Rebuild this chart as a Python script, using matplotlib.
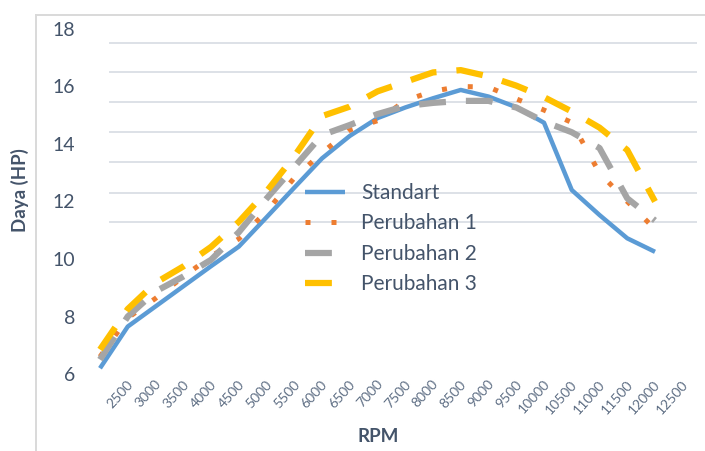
import matplotlib
matplotlib.use("Agg")
import matplotlib.pyplot as plt
from matplotlib.lines import Line2D
from matplotlib.transforms import ScaledTranslation

plt.rcParams["font.family"] = ["Lato", "DejaVu Sans"]

# data
rpm = ["2500", "3000", "3500", "4000", "4500", "5000", "5500", "6000", "6500", "7000",
       "7500", "8000", "8500", "9000", "9500", "10000", "10500", "11000", "11500",
       "12000", "12500"]
standart = [6.2, 7.65, 8.35, 9.05, 9.75, 10.43, 11.45, 12.48, 13.5, 14.28, 14.9,
            15.27, 15.59, 15.88, 15.65, 15.28, 14.74, 12.4, 11.53, 10.72, 10.25]
perubahan1 = [6.6, 7.95, 8.63, 9.38, 10.09, 10.7, 11.65, 12.82, 13.69, 14.49, 14.81,
              15.51, 15.84, 16.0, 15.98, 15.57, 15.18, 14.75, 12.99, 12.0, 11.04]
perubahan2 = [6.5, 8.0, 8.87, 9.39, 9.97, 10.93, 12.1, 13.2, 14.31, 14.66, 15.04,
              15.32, 15.43, 15.5, 15.5, 15.27, 14.78, 14.41, 13.86, 12.11, 11.34]
perubahan3 = [6.85, 8.26, 9.17, 9.74, 10.42, 11.29, 12.35, 13.57, 14.97, 15.3, 15.83,
              16.16, 16.49, 16.57, 16.35, 16.03, 15.63, 15.13, 14.57, 13.79, 12.0]
series_names = ["Standart", "Perubahan 1", "Perubahan 2", "Perubahan 3"]
y_ticks = [6, 8, 10, 12, 14, 16, 18]
# the gridlines in the source image don't line up with the tick labels
grid_levels = [17.52, 16.49, 15.45, 14.40, 13.36, 12.31, 11.29]

TEXT = "#44546A"
GRID = "#DDE1E7"

W, H = 705, 451
fig = plt.figure(figsize=(W / 100, H / 100), dpi=100)
ax = fig.add_axes([86 / W, 1 - 374 / H, 611 / W, 345 / H])

x = list(range(len(rpm)))

for g in grid_levels:
    ax.axhline(g, xmin=24 / 611, xmax=1, color=GRID, lw=1.4, zorder=0)

ax.plot(x, standart, color="#5B9BD5", lw=3.2, solid_capstyle="butt",
        solid_joinstyle="round", label=series_names[0])
ax.plot(x, perubahan1, color="#ED7D31", lw=3.6, dashes=(1, 4.2),
        dash_capstyle="butt", label=series_names[1])
ax.plot(x, perubahan2, color="#A5A5A5", lw=4.5, dashes=(4.3, 3.2),
        dash_capstyle="butt", dash_joinstyle="round", label=series_names[2])
ax.plot(x, perubahan3, color="#FFC000", lw=4.5, dashes=(4.3, 3.2),
        dash_capstyle="butt", dash_joinstyle="round", label=series_names[3])

ax.set_xlim(-14 / 27.75, 20 + 42 / 27.75)
ax.set_ylim(6, 18)
ax.set_yticks(y_ticks)
ax.set_yticklabels([str(v) for v in y_ticks], fontsize=14, color=TEXT)
ax.set_xticks(x)
ax.set_xticklabels(rpm, fontsize=10, color="#5E6E84", rotation=48,
                   rotation_mode="anchor", ha="right", va="center")
ax.tick_params(axis="both", length=0)
ax.tick_params(axis="y", pad=8)
ax.tick_params(axis="x", pad=0)
for s in ax.spines.values():
    s.set_visible(False)

# labels sit about one category to the right of the points, as in the source
shift = ScaledTranslation(0.31, -0.08, fig.dpi_scale_trans)
for lab in ax.get_xticklabels():
    lab.set_transform(lab.get_transform() + shift)

ax.set_ylabel("Daya (HP)", fontsize=13.5, fontweight="bold", color=TEXT)
ax.yaxis.set_label_coords(-57 / 611, (374 - 190) / 345)
ax.set_xlabel("RPM", fontsize=13.5, fontweight="bold", color=TEXT)
ax.xaxis.set_label_coords((378 - 86) / 611, (374 - 428) / 345)

leg = ax.legend(loc="upper left", bbox_to_anchor=(305 / W, 1 - 183 / H),
                bbox_transform=fig.transFigure, frameon=False, fontsize=15,
                handlelength=1.9, handletextpad=0.8, labelspacing=0.5,
                borderpad=0, borderaxespad=0)
for t in leg.get_texts():
    t.set_color(TEXT)

# chart area border (left and top edges visible in the crop)
fig.add_artist(Line2D([36 / W, 36 / W], [0, 1 - 15 / H], transform=fig.transFigure,
                      color="#D9D9D9", lw=1.4))
fig.add_artist(Line2D([36 / W, 1], [1 - 15 / H, 1 - 15 / H], transform=fig.transFigure,
                      color="#D9D9D9", lw=1.4))

fig.savefig("out.png", dpi=100)
